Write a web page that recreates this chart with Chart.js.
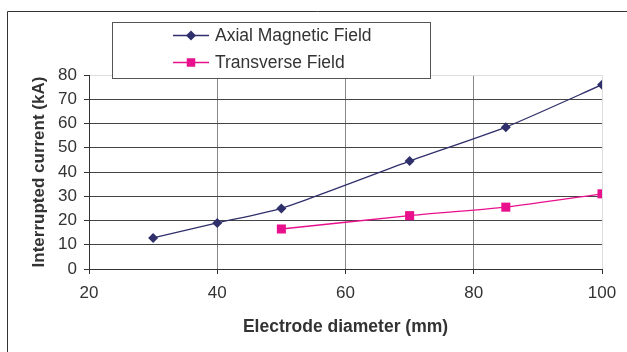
<!DOCTYPE html>
<html>
<head>
<meta charset="utf-8">
<script src="https://cdn.jsdelivr.net/npm/chart.js@4/dist/chart.umd.min.js"></script>
<style>
  html, body { margin: 0; padding: 0; background: #fff; }
  #wrap { width: 627px; height: 352px; position: relative; }
</style>
</head>
<body>
<div id="wrap"><canvas id="chart" width="627" height="352"></canvas></div>
<script>
// values
var axialX = [30, 40, 50, 70, 85, 100];
var axialY = [12.8, 19, 25, 44.5, 58.5, 76];
var transX = [50, 70, 85, 100];
var transY = [16.5, 22, 25.5, 31];
var seriesNames = ["Axial Magnetic Field", "Transverse Field"];
var xTicks = [20, 40, 60, 80, 100];
var yTicks = [0, 10, 20, 30, 40, 50, 60, 70, 80];

var navy = "#2f2f6b";
var pink = "#e8108c";
var font = "'Liberation Sans', Arial, sans-serif";

function toPoints(xs, ys) {
  var pts = new Array();
  for (let i = 0; i < xs.length; i++) {
    pts.push({x: xs[i], y: ys[i]});
  }
  return pts;
}

// outer frame + boxed legend sitting over the plot top
var framePlugin = {
  id: "frame",
  afterDraw(chart) {
    var ctx = chart.ctx;
    ctx.save();
    ctx.strokeStyle = "#333";
    ctx.lineWidth = 1;
    ctx.beginPath();
    ctx.moveTo(7.5, 352);
    ctx.lineTo(7.5, 11.5);
    ctx.lineTo(627, 11.5);
    ctx.stroke();

    // legend box
    ctx.fillStyle = "#fff";
    ctx.fillRect(112, 22, 318, 56);
    ctx.strokeStyle = "#555";
    ctx.strokeRect(112.5, 22.5, 318, 56);

    var rows = [35, 62];
    var colors = [navy, pink];
    var styles = ["rectRot", "rect"];
    var radii = [5, 6];
    for (let i = 0; i < seriesNames.length; i++) {
      var y = rows[i];
      ctx.strokeStyle = colors[i];
      ctx.lineWidth = 1.3;
      ctx.beginPath();
      ctx.moveTo(173, y + 0.5);
      ctx.lineTo(209, y + 0.5);
      ctx.stroke();
      ctx.fillStyle = colors[i];
      Chart.helpers.drawPoint(ctx, {pointStyle: styles[i], radius: radii[i], borderWidth: 0}, 191, y + 0.5);
      ctx.fillStyle = "#333";
      ctx.font = "17.5px " + font;
      ctx.textBaseline = "middle";
      ctx.textAlign = "left";
      ctx.fillText(seriesNames[i], 215, y + 1);
    }
    ctx.restore();
  }
};

new Chart(document.getElementById("chart"), {
  type: "line",
  data: {
    datasets: [
      {
        label: seriesNames[0],
        data: toPoints(axialX, axialY),
        borderColor: navy,
        backgroundColor: navy,
        borderWidth: 1.3,
        pointStyle: "rectRot",
        pointRadius: 5,
        pointBorderWidth: 0,
        tension: 0.2
      },
      {
        label: seriesNames[1],
        data: toPoints(transX, transY),
        borderColor: pink,
        backgroundColor: pink,
        borderWidth: 1.3,
        pointStyle: "rect",
        pointRadius: 6.4,
        pointBorderWidth: 0,
        tension: 0.2
      }
    ]
  },
  options: {
    responsive: false,
    animation: false,
    layout: { padding: { top: 75, right: 25, bottom: 0, left: 0 } },
    plugins: { legend: { display: false }, tooltip: { enabled: false } },
    scales: {
      x: {
        type: "linear",
        min: 20,
        max: 100,
        afterFit(scale) { scale.height = 83; },
        afterBuildTicks(scale) { scale.ticks = xTicks.map(v => ({value: v})); },
        ticks: { color: "#333", font: { family: font, size: 17 }, padding: 9 },
        grid: {
          color: ctx => (ctx.tick && ctx.tick.value === 100 ? "#ddd" : "#888"),
          tickColor: "#333",
          tickLength: 5,
          lineWidth: 1
        },
        border: { color: "#333", width: 1 },
        title: {
          display: true,
          text: "Electrode diameter (mm)",
          color: "#333",
          font: { family: font, size: 17.5, weight: "bold" },
          padding: { top: 0, bottom: 14 }
        }
      },
      y: {
        min: 0,
        max: 80,
        afterFit(scale) { scale.width = 89; },
        afterBuildTicks(scale) { scale.ticks = yTicks.map(v => ({value: v})); },
        ticks: { color: "#333", font: { family: font, size: 17 }, padding: 7 },
        grid: {
          color: ctx => (ctx.tick && ctx.tick.value === 80 ? "#ddd" : "#444"),
          tickColor: "#333",
          tickLength: 5,
          lineWidth: 1
        },
        border: { color: "#333", width: 1 },
        title: {
          display: true,
          text: "Interrupted current (kA)",
          color: "#333",
          font: { family: font, size: 17, weight: "bold" },
          padding: { top: 29, bottom: 0 }
        }
      }
    }
  },
  plugins: [framePlugin]
});
</script>
</body>
</html>
